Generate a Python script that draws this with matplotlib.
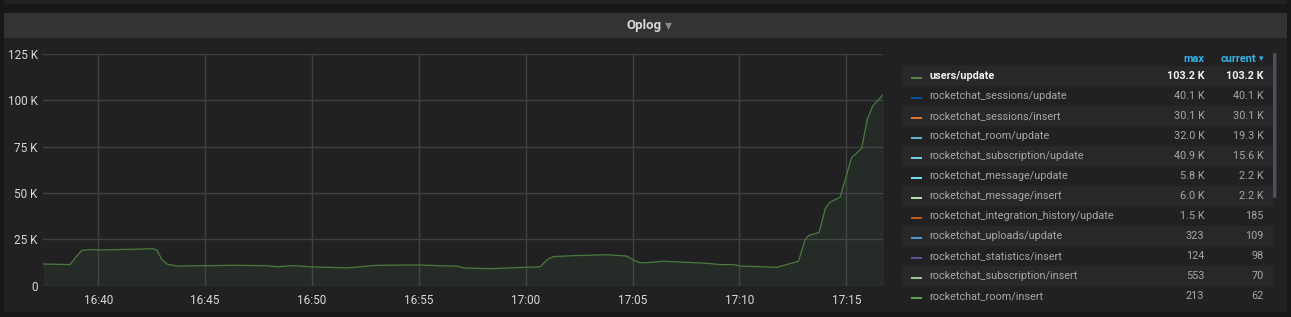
"""
Grafana-style "Oplog" panel: users/update oplog rate with a table legend.
"""
import matplotlib
matplotlib.use('Agg')
import matplotlib.pyplot as plt
import matplotlib.dates as mdates
from matplotlib.patches import Rectangle, FancyBboxPatch
import pandas as pd

plt.rcParams['font.family'] = ['Roboto', 'DejaVu Sans']

# users/update series (time, ops)
times = ['16:37:26', '16:38:41', '16:39:00', '16:39:14', '16:39:38', '16:40:06',
         '16:42:34', '16:42:45', '16:42:59', '16:43:13', '16:43:41', '16:46:19',
         '16:47:53', '16:48:22', '16:49:07', '16:49:55', '16:51:38', '16:53:02',
         '16:54:55', '16:56:28', '16:56:47', '16:57:05', '16:58:20', '16:59:54',
         '17:00:41', '17:01:00', '17:01:18', '17:02:14', '17:03:48', '17:04:44',
         '17:05:02', '17:05:21', '17:05:40', '17:06:26', '17:08:28', '17:09:06',
         '17:09:43', '17:10:02', '17:11:45', '17:12:46', '17:13:04', '17:13:14',
         '17:13:44', '17:14:01', '17:14:14', '17:14:43', '17:15:15', '17:15:43',
         '17:15:59', '17:16:14', '17:16:44']
users_update = [11.7, 11.4, 16.0, 19.0, 19.5, 19.3, 19.9, 19.3, 14.0, 11.7, 10.6, 11.0,
                10.8, 10.2, 10.8, 10.2, 9.6, 11.0, 11.2, 10.6, 10.6, 9.6, 9.2, 9.9,
                10.2, 14.0, 15.7, 16.2, 16.7, 16.0, 13.9, 12.4, 12.4, 13.2, 12.1, 11.4,
                11.4, 10.6, 9.9, 13.2, 24.7, 27.0, 28.8, 41.5, 45.0, 47.8, 69.1, 74.0,
                89.7, 96.9, 103.2]  # thousands

y_ticks = [0, 25, 50, 75, 100, 125]
y_labels = ['0', '25 K', '50 K', '75 K', '100 K', '125 K']

# legend table
series_names = ['users/update', 'rocketchat_sessions/update', 'rocketchat_sessions/insert',
                'rocketchat_room/update', 'rocketchat_subscription/update',
                'rocketchat_message/update', 'rocketchat_message/insert',
                'rocketchat_integration_history/update', 'rocketchat_uploads/update',
                'rocketchat_statistics/insert', 'rocketchat_subscription/insert',
                'rocketchat_room/insert']
series_colors = ['#508642', '#0A50A1', '#E0752D', '#64B0C8', '#6ED0E0', '#70DBED',
                 '#B7DBAB', '#C15C17', '#5195CE', '#614D93', '#9AC48A', '#629E51']
max_vals = ['103.2 K', '40.1 K', '30.1 K', '32.0 K', '40.9 K', '5.8 K', '6.0 K',
            '1.5 K', '323', '124', '553', '213']
current_vals = ['103.2 K', '40.1 K', '30.1 K', '19.3 K', '15.6 K', '2.2 K', '2.2 K',
                '185', '109', '98', '70', '62']

W, H = 1291, 317
fig = plt.figure(figsize=(W / 100, H / 100), dpi=100)
fig.patch.set_facecolor('#161719')


def fx(x):
    return x / W


def fy(y):
    return 1 - y / H


def rect(x0, y0, x1, y1, color, z=0):
    fig.add_artist(Rectangle((fx(x0), fy(y1)), fx(x1) - fx(x0), fy(y0) - fy(y1),
                             transform=fig.transFigure, facecolor=color,
                             edgecolor='none', zorder=z))


# panel frames
rect(4, 0, 1287, 3.5, '#212124')
rect(4, 12.7, 1287, 311.7, '#212124')
rect(4, 12.7, 1287, 37.7, '#333336')
fig.text(fx(644), fy(25.5), 'Oplog', color='#d8d9da', fontsize=9.5,
         fontweight='bold', ha='center', va='center')
fig.text(fx(668), fy(25), '▾', color='#8a8a8c', fontsize=10,
         ha='center', va='center', family='DejaVu Sans')

# graph
ax = fig.add_axes([fx(43.3), fy(285.7), fx(883.3) - fx(43.3), fy(54) - fy(285.7)])
ax.set_facecolor('none')
t = pd.to_datetime(['2020-01-01 ' + s for s in times])
ax.plot(t, users_update, color='#4a7c3d', lw=0.9, zorder=3)
ax.fill_between(t, users_update, 0, color='#508642', alpha=0.1, lw=0, zorder=2)
ax.set_xlim(t[0], t[-1])
ax.set_ylim(0, 125)
ax.set_yticks(y_ticks)
ax.set_yticklabels(y_labels)
ax.xaxis.set_major_locator(mdates.MinuteLocator(byminute=range(0, 60, 5)))
ax.xaxis.set_major_formatter(mdates.DateFormatter('%H:%M'))
ax.grid(True, color='#404043', lw=1.0)
ax.set_axisbelow(True)
for s in ax.spines.values():
    s.set_visible(False)
ax.tick_params(length=0, labelsize=8.5, colors='#d8d9da')
ax.tick_params(axis='y', pad=4)
ax.tick_params(axis='x', pad=6)

# legend table
hdr = '#33b5e5'
fig.text(fx(1204.5), fy(58.5), 'max', color=hdr, fontsize=7.8,
         fontweight='bold', ha='right', va='center')
fig.text(fx(1256), fy(58.5), 'current', color=hdr, fontsize=7.8,
         fontweight='bold', ha='right', va='center')
fig.text(fx(1263), fy(58.5), '▾', color=hdr, fontsize=6.5,
         ha='right', va='center', family='DejaVu Sans')
for i, name in enumerate(series_names):
    yc = 76 + 20 * i
    if i % 2 == 0:
        rect(901.7, yc - 10, 1272.7, yc + 10, '#28282b', z=1)
    rect(910.7, yc + 1, 921.7, yc + 3, series_colors[i], z=2)
    first = i == 0
    col = '#f0f0f0' if first else '#a5a6a8'
    fw = 'bold' if first else 'normal'
    fig.text(fx(929), fy(yc), name, color=col, fontsize=7.8, fontweight=fw,
             ha='left', va='center', zorder=3)
    fig.text(fx(1204.5), fy(yc), max_vals[i], color=col, fontsize=7.8, fontweight=fw,
             ha='right', va='center', zorder=3)
    fig.text(fx(1263.5), fy(yc), current_vals[i], color=col, fontsize=7.8, fontweight=fw,
             ha='right', va='center', zorder=3)

# scrollbar
fig.add_artist(FancyBboxPatch((fx(1273), fy(198)), fx(3.5), fy(53) - fy(198),
                              boxstyle='round,pad=0,rounding_size=0.002',
                              transform=fig.transFigure, facecolor='#4e4f53',
                              edgecolor='none', zorder=2))

fig.savefig('out.png', dpi=100, facecolor=fig.get_facecolor())
